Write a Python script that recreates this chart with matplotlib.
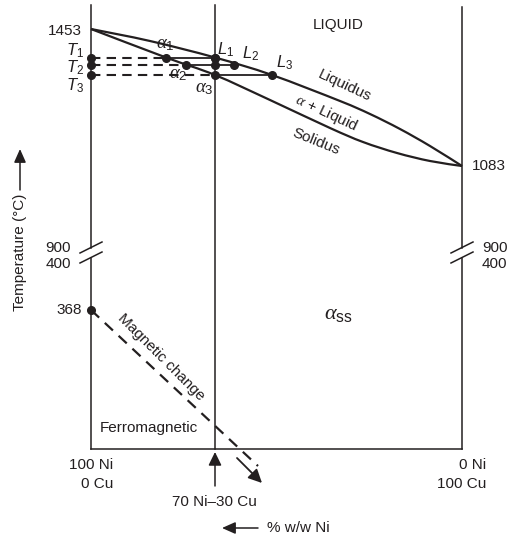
import numpy as np
import matplotlib
matplotlib.use("Agg")
import matplotlib.pyplot as plt
from matplotlib.path import Path
from matplotlib.patches import PathPatch

plt.rcParams['font.family'] = ['Liberation Sans', 'DejaVu Sans']
plt.rcParams['mathtext.fontset'] = 'custom'
plt.rcParams['mathtext.rm'] = 'Liberation Sans'
plt.rcParams['mathtext.sf'] = 'Liberation Sans:italic'
plt.rcParams['mathtext.it'] = 'Liberation Serif:italic'

INK = '#231f20'

# ---- schematic diagram coordinates (x: across composition, y: down the page) ----
x_ni100 = 91      # 100 Ni / 0 Cu
x_alloy = 215     # 70 Ni - 30 Cu
x_cu100 = 462     # 0 Ni / 100 Cu
y_top = 5
y_base = 449
y_1453 = 29
y_1083 = 166
y_368 = 310
break_upper = 247.5   # 900 level
break_lower = 257.5   # 400 level

liquidus_x = [91, 150, 215, 272, 340, 370, 400, 430, 462]
liquidus_y = [29, 41, 57.5, 75, 101, 114, 129, 146, 166]
solidus_x = [91, 166, 215, 270, 330, 363, 397, 430, 462]
solidus_y = [29, 57.5, 75, 100, 128, 142, 153, 161, 166]

T_rows = [57.5, 64.5, 74.5]          # T1, T2, T3
alpha_x = [166, 186, 215]            # alpha1, alpha2, alpha3 (solidus)
liq_x = [215, 234, 272]              # L1, L2, L3 (liquidus)

magnetic_x = [91, 258]
magnetic_y = [310, 466]

fig = plt.figure(figsize=(5.07, 5.40), dpi=100)
ax = fig.add_axes([0, 0, 1, 1])
ax.set_xlim(0, 507)
ax.set_ylim(540, 0)
ax.axis('off')

flw = 1.1
# frame lines
ax.plot([x_ni100, x_ni100], [y_top, break_upper], color=INK, lw=flw)
ax.plot([x_ni100, x_ni100], [break_lower, y_base], color=INK, lw=flw)
ax.plot([x_cu100, x_cu100], [y_top + 2, break_upper], color=INK, lw=flw)
ax.plot([x_cu100, x_cu100], [break_lower, y_base], color=INK, lw=flw)
ax.plot([x_alloy, x_alloy], [y_top, y_base], color=INK, lw=flw)
ax.plot([x_ni100, x_cu100], [y_base, y_base], color=INK, lw=flw)

# break marks
for xc in (x_ni100, x_cu100):
    for yc in (break_upper, break_lower):
        ax.plot([xc - 11, xc + 11], [yc + 5.5, yc - 5.5], color=INK, lw=flw)


def smooth_path(xs, ys):
    pts = np.column_stack([xs, ys]).astype(float)
    verts = [pts[0]]
    codes = [Path.MOVETO]
    n = len(pts)
    for i in range(n - 1):
        p0 = pts[i - 1] if i > 0 else pts[i]
        p1 = pts[i]
        p2 = pts[i + 1]
        p3 = pts[i + 2] if i + 2 < n else pts[i + 1]
        verts += [p1 + (p2 - p0) / 6, p2 - (p3 - p1) / 6, p2]
        codes += [Path.CURVE4] * 3
    return Path(verts, codes)


for xs, ys in ((liquidus_x, liquidus_y), (solidus_x, solidus_y)):
    ax.add_patch(PathPatch(smooth_path(xs, ys), fill=False, edgecolor=INK, lw=1.6))

# tie lines
for yr, xa, xl in zip(T_rows, alpha_x, liq_x):
    ax.plot([x_ni100, xa], [yr, yr], color=INK, lw=1.5, ls=(0, (4.5, 3)))
    ax.plot([xa, xl], [yr, yr], color=INK, lw=1.3)
    ax.plot([x_ni100, xa, xl], [yr, yr, yr], 'o', color=INK, ms=5.5)
ax.plot([x_alloy], [T_rows[1]], 'o', color=INK, ms=5.5)
ax.plot([x_alloy], [T_rows[0]], 'o', color=INK, ms=5.5)

# magnetic change
ax.plot(magnetic_x, magnetic_y, color=INK, lw=1.6, ls=(0, (5, 3.5)))
ax.plot([x_ni100], [y_368], 'o', color=INK, ms=5.5)
ax.annotate('', xy=(262, 483), xytext=(237, 458),
            arrowprops=dict(arrowstyle='-|>,head_length=0.45,head_width=0.22',
                            mutation_scale=18, lw=1.3, color=INK,
                            shrinkA=0, shrinkB=0))

# alloy arrow below axis
ax.annotate('', xy=(x_alloy, 452), xytext=(x_alloy, 486),
            arrowprops=dict(arrowstyle='-|>,head_length=0.45,head_width=0.22',
                            mutation_scale=18, lw=1.1, color=INK,
                            shrinkA=0, shrinkB=0))
# temperature arrow
ax.annotate('', xy=(20, 149), xytext=(20, 190),
            arrowprops=dict(arrowstyle='-|>,head_length=0.45,head_width=0.2',
                            mutation_scale=18, lw=1.1, color=INK,
                            shrinkA=0, shrinkB=0))
# composition arrow
ax.annotate('', xy=(222, 528), xytext=(258, 528),
            arrowprops=dict(arrowstyle='-|>,head_length=0.45,head_width=0.2',
                            mutation_scale=18, lw=1.1, color=INK,
                            shrinkA=0, shrinkB=0))

fs = 11
kw = dict(color=INK, fontsize=fs)
# temperature labels
ax.text(82, y_1453 + 2, '1453', ha='right', va='center', **kw)
ax.text(472, y_1083, '1083', ha='left', va='center', **kw)
ax.text(82, y_368, '368', ha='right', va='center', **kw)
ax.text(71, break_upper, '900', ha='right', va='center', **kw)
ax.text(71, break_lower + 7, '400', ha='right', va='center', **kw)
ax.text(482, break_upper, '900', ha='left', va='center', **kw)
ax.text(482, break_lower + 7, '400', ha='left', va='center', **kw)

# T labels
for lab, yy in zip(['1', '2', '3'], [51, 68, 86]):
    ax.text(84, yy, r'$\mathsf{T}_{%s}$' % lab, ha='right', va='center', color=INK, fontsize=12)
# L labels
for lab, xx, yy in zip(['1', '2', '3'], [217, 242, 276], [50, 54, 63]):
    ax.text(xx, yy, r'$\mathsf{L}_{%s}$' % lab, ha='left', va='center', color=INK, fontsize=12)
# alpha labels
for lab, xx, yy in zip(['1', '2', '3'], [165, 178, 204], [44, 74, 88]):
    ax.text(xx, yy, r'$\alpha_{%s}$' % lab, ha='center', va='center', color=INK, fontsize=13.5)

ax.text(338, 25, 'LIQUID', ha='center', va='center', **kw)
ax.text(345, 86, 'Liquidus', ha='center', va='center', rotation=-25, rotation_mode='anchor', **kw)
ax.text(326, 113, r'$\alpha$ + Liquid', ha='center', va='center', rotation=-25, rotation_mode='anchor', **kw)
ax.text(316, 142, 'Solidus', ha='center', va='center', rotation=-22, rotation_mode='anchor', **kw)
ax.text(338, 314, r'$\alpha_{\mathrm{ss}}$', ha='center', va='center', color=INK, fontsize=16)
ax.text(161, 357, 'Magnetic change', ha='center', va='center', rotation=-45, rotation_mode='anchor', **kw)
ax.text(149, 428, 'Ferromagnetic', ha='center', va='center', **kw)

ax.text(113, 465, '100 Ni', ha='right', va='center', **kw)
ax.text(113, 484, '0 Cu', ha='right', va='center', **kw)
ax.text(486, 465, '0 Ni', ha='right', va='center', **kw)
ax.text(486, 484, '100 Cu', ha='right', va='center', **kw)
ax.text(214, 502, '70 Ni\u201330 Cu', ha='center', va='center', **kw)
ax.text(267, 528, '% w/w Ni', ha='left', va='center', **kw)
ax.text(20, 252, 'Temperature (\u00b0C)', ha='center', va='center', rotation=90, **kw)

fig.savefig('out.png', dpi=100)
